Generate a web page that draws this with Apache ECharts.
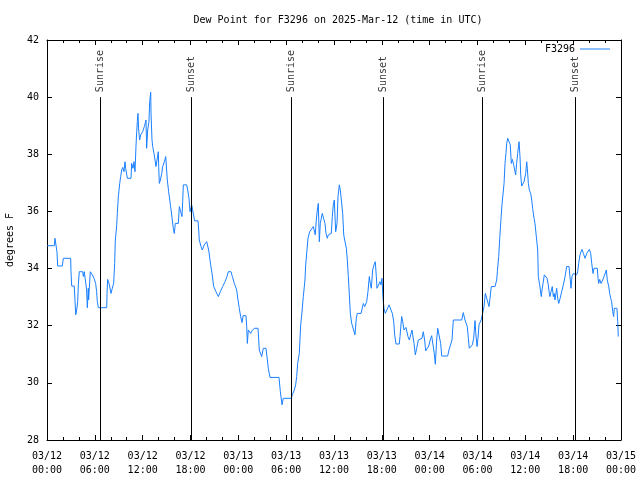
<!DOCTYPE html>
<html>
<head>
<meta charset="utf-8">
<script src="https://cdn.jsdelivr.net/npm/echarts@6/dist/echarts.min.js"></script>
<style>html,body{margin:0;padding:0;background:#fff}#c{width:640px;height:480px}</style>
</head>
<body>
<div id="c"></div>
<script>
// Hours since 2025-03-12 00:00 UTC
const hours = [0,0.92,1.00,1.13,1.25,1.34,1.92,2.05,2.97,3.01,3.10,3.42,3.51,3.60,3.72,3.85,3.93,4.05,4.48,4.56,4.68,4.85,4.97,5.06,5.18,5.22,5.43,5.60,5.69,5.90,6.10,6.23,6.31,6.44,7.49,7.53,7.61,7.78,8.03,8.19,8.36,8.49,8.57,8.74,8.82,8.95,9.12,9.24,9.37,9.50,9.66,9.78,9.87,10.08,10.54,10.62,10.79,10.91,11.04,11.16,11.25,11.33,11.41,11.50,11.62,11.75,12.00,12.21,12.42,12.50,12.63,12.79,12.88,13.01,13.05,13.17,13.26,13.42,13.55,13.67,13.80,13.96,14.01,14.09,14.22,14.39,14.51,14.72,14.89,15.01,15.09,15.26,15.51,15.72,15.84,15.97,16.09,16.47,16.60,16.77,16.93,17.02,17.10,17.52,17.65,17.81,17.94,18.02,18.15,18.27,18.52,18.94,19.03,19.10,19.32,19.48,19.73,20.03,20.28,20.53,20.70,20.91,21.20,21.49,21.74,22.03,22.33,22.58,22.74,23.08,23.25,23.50,23.79,23.96,24.12,24.29,24.46,24.59,24.96,25.05,25.13,25.25,25.38,25.55,25.71,26.00,26.47,26.63,26.93,27.13,27.47,27.64,27.76,27.97,29.10,29.27,29.48,29.64,30.65,30.77,31.02,31.19,31.32,31.44,31.65,31.82,31.95,32.15,32.36,32.45,32.61,32.74,32.95,33.20,33.41,33.65,33.78,33.91,34.03,34.16,34.28,34.53,34.71,34.87,35.00,35.16,35.29,35.54,35.66,35.79,35.91,36.04,36.21,36.38,36.50,36.67,36.79,36.92,37.09,37.22,37.34,37.55,37.67,37.80,38.05,38.22,38.42,38.63,38.80,38.92,39.39,39.68,39.85,40.10,40.26,40.43,40.55,40.68,40.85,41.02,41.18,41.31,41.39,41.64,41.77,41.90,42.02,42.15,42.27,42.44,42.65,42.90,43.15,43.32,43.49,43.61,43.78,44.19,44.28,44.49,44.62,44.78,45.03,45.28,45.45,45.62,45.78,45.95,46.04,46.20,46.37,46.58,46.79,47.04,47.20,47.37,47.50,47.71,47.88,48.13,48.25,48.46,48.58,48.71,48.88,49.01,49.22,49.38,49.51,50.26,50.42,50.64,50.80,50.97,52.02,52.22,52.43,52.72,52.85,52.97,53.19,53.35,53.52,53.69,53.77,53.94,54.06,54.19,54.48,54.82,54.98,55.16,55.44,55.57,55.73,56.20,56.41,56.49,56.66,56.79,56.95,57.07,57.33,57.45,57.58,57.66,57.79,57.99,58.11,58.24,58.37,58.54,58.70,58.79,58.91,59.04,59.21,59.33,59.42,59.54,59.75,59.83,60.05,60.17,60.25,60.38,60.50,60.67,60.80,60.92,61.09,61.21,61.42,61.55,61.63,61.80,62.00,62.09,62.22,62.38,62.55,62.72,62.88,63.01,63.09,63.22,63.38,63.51,63.63,63.72,63.93,64.06,64.19,64.31,64.44,64.56,64.77,64.98,65.19,65.48,65.64,65.73,65.85,66.02,66.23,66.44,66.57,66.69,66.86,66.98,67.11,67.28,67.49,67.70,68.03,68.20,68.33,68.49,68.61,69.03,69.12,69.20,69.33,69.49,69.70,69.87,70.16,70.28,70.46,70.58,70.71,70.83,70.96,71.08,71.16,71.49,71.59,71.66];
const dewPoint = [34.80,34.80,35.06,35.06,34.59,34.09,34.09,34.36,34.36,33.89,33.39,33.39,32.90,32.38,32.55,32.84,33.43,33.89,33.89,33.72,33.89,33.83,33.25,32.63,33.31,32.90,33.89,33.89,33.78,33.66,33.48,33.19,32.84,32.63,32.63,33.13,33.62,33.48,33.13,33.31,33.48,34.18,35.00,35.50,35.93,36.52,36.98,37.22,37.45,37.54,37.39,37.74,37.51,37.16,37.16,37.68,37.51,37.74,37.39,38.27,38.79,39.14,39.43,38.85,38.50,38.68,38.79,38.97,39.20,38.21,38.85,39.14,39.84,40.17,39.43,38.50,38.27,38.03,37.80,37.57,37.80,38.09,37.57,36.98,37.10,37.33,37.57,37.74,37.92,37.92,37.10,36.69,36.17,35.70,35.41,35.23,35.58,35.58,36.17,35.99,35.82,36.34,36.93,36.93,36.75,36.46,35.99,35.99,36.23,36.05,35.67,35.67,35.35,35.00,34.77,34.65,34.83,34.94,34.65,34.13,33.83,33.37,33.19,33.02,33.19,33.37,33.54,33.72,33.89,33.89,33.72,33.48,33.25,32.90,32.61,32.32,32.11,32.35,32.35,31.97,31.38,31.85,31.91,31.73,31.82,31.91,31.91,31.15,30.92,31.21,31.21,30.80,30.51,30.19,30.19,29.69,29.23,29.46,29.46,29.58,29.75,29.93,30.22,30.68,31.03,32.03,32.38,33.02,33.60,34.13,34.65,35.06,35.29,35.35,35.47,35.18,35.70,36.05,36.28,34.94,35.58,35.93,35.93,35.58,35.23,35.06,35.18,35.18,35.23,35.82,36.23,36.40,35.29,35.58,36.52,36.93,36.75,36.40,35.93,35.18,35.00,34.71,34.30,33.72,32.43,32.08,32.03,31.68,32.26,32.43,32.43,32.78,32.67,32.84,33.19,33.72,33.48,33.31,33.95,34.13,34.24,33.72,33.31,33.31,33.54,33.43,33.66,32.96,32.61,32.43,32.43,32.73,32.73,32.43,32.14,31.68,31.36,31.36,31.62,32.32,32.14,31.85,31.94,31.62,31.50,31.68,31.85,31.85,31.38,30.98,31.21,31.50,31.56,31.56,31.79,31.50,31.12,31.12,31.29,31.56,31.65,31.65,31.03,30.65,31.50,31.91,31.91,31.38,30.94,30.94,31.15,31.21,31.50,32.20,32.20,32.46,32.20,31.97,31.56,31.21,31.21,31.33,31.56,32.18,31.79,31.27,31.56,32.03,32.22,32.67,33.13,32.96,32.67,32.96,33.37,33.37,33.60,33.89,34.42,35.06,35.76,36.23,36.98,37.68,38.06,38.38,38.56,38.56,38.33,37.68,37.82,37.63,37.39,37.28,37.68,38.03,38.44,37.92,37.28,36.89,36.89,37.04,37.33,37.74,37.51,36.98,36.75,36.63,36.40,36.11,35.76,35.58,35.58,34.65,33.72,33.43,33.02,33.25,33.48,33.78,33.83,33.66,33.43,33.13,33.02,33.19,33.37,33.02,33.13,32.90,33.31,32.96,32.78,32.90,32.96,33.19,33.43,33.72,34.07,34.07,33.60,33.31,33.72,33.83,33.89,33.78,33.89,34.18,34.48,34.59,34.67,34.53,34.36,34.53,34.67,34.53,34.18,33.83,34.01,34.01,33.66,33.48,33.62,33.48,33.60,33.72,33.95,33.60,33.37,33.13,32.96,32.84,32.49,32.32,32.61,32.61,32.14,31.62];
const sunHours = [6.65, 18.08, 30.62, 42.17, 54.62, 66.25];
const sunLabels = ['Sunrise', 'Sunset', 'Sunrise', 'Sunset', 'Sunrise', 'Sunset'];
const seriesName = 'F3296';
const titleText = 'Dew Point for F3296 on 2025-Mar-12 (time in UTC)';
const yName = 'degrees F';

const FONT = 'DejaVu Sans Mono';
const LINE_COLOR = '#1a80ff';
const chart = echarts.init(document.getElementById('c'), null, {renderer: 'canvas'});
function fmtX(h) {
  const d = 12 + Math.floor(h / 24);
  const hh = Math.round(h % 24);
  return '03/' + d + '\n' + String(hh).padStart(2, '0') + ':00';
}
const axisCommonX = {
  type: 'value', min: 0, max: 72, interval: 6,
  axisLine: {show: true, onZero: false, lineStyle: {color: '#000', width: 1}},
  axisTick: {show: true, inside: true, length: 5, lineStyle: {color: '#000'}},
  minorTick: {show: true, splitNumber: 3, length: 3, lineStyle: {color: '#000'}},
  splitLine: {show: false}
};
const axisCommonY = {
  type: 'value', min: 28, max: 42, interval: 2,
  axisLine: {show: true, onZero: false, lineStyle: {color: '#000', width: 1}},
  axisTick: {show: true, inside: true, length: 5, lineStyle: {color: '#000'}},
  splitLine: {show: false}
};
const data = hours.map((h, i) => [h, dewPoint[i]]);
chart.setOption({
  animation: false,
  backgroundColor: '#fff',
  title: {
    text: titleText, left: 333, top: 10, textAlign: 'center',
    textStyle: {fontFamily: FONT, fontSize: 10, fontWeight: 'normal', color: '#000'}
  },
  legend: {
    data: [{name: seriesName, icon: 'rect'}], right: 25, top: 39, align: 'right',
    itemWidth: 30, itemHeight: 1, itemGap: 5,
    itemStyle: {color: LINE_COLOR},
    textStyle: {fontFamily: FONT, fontSize: 10, color: '#000'}
  },
  grid: {left: 47, right: 19, top: 40, bottom: 40, containLabel: false, outerBoundsMode: 'none'},
  xAxis: [
    Object.assign({}, axisCommonX, {
      position: 'bottom',
      axisLabel: {show: true, formatter: fmtX, fontFamily: FONT, fontSize: 10, color: '#000', lineHeight: 14, margin: 9}
    }),
    Object.assign({}, axisCommonX, {position: 'top', axisLabel: {show: false}})
  ],
  yAxis: [
    Object.assign({}, axisCommonY, {
      position: 'left',
      name: yName, nameLocation: 'middle', nameGap: 32, nameRotate: 90,
      nameTextStyle: {fontFamily: FONT, fontSize: 10, color: '#000'},
      axisLabel: {show: true, fontFamily: FONT, fontSize: 10, color: '#000', margin: 8}
    }),
    Object.assign({}, axisCommonY, {position: 'right', axisLabel: {show: false}})
  ],
  series: [
    {
      name: 'sun', type: 'scatter', symbolSize: 0, silent: true, z: 1,
      data: sunHours.map((h, i) => ({value: [h, 40], name: sunLabels[i]})),
      label: {
        show: true, formatter: '{b}', position: 'top', distance: 5, rotate: 90,
        align: 'left', verticalAlign: 'middle',
        fontFamily: FONT, fontSize: 10, color: '#000'
      },
      markLine: {
        silent: true, symbol: ['none', 'none'], animation: false,
        label: {show: false},
        lineStyle: {color: '#000', width: 1, type: 'solid'},
        data: sunHours.map(h => [{coord: [h, 28]}, {coord: [h, 40]}])
      }
    },
    {
      name: seriesName, type: 'line', data: data, symbol: 'none', z: 3,
      lineStyle: {color: LINE_COLOR, width: 1},
      itemStyle: {color: LINE_COLOR}
    }
  ]
});
</script>
</body>
</html>
